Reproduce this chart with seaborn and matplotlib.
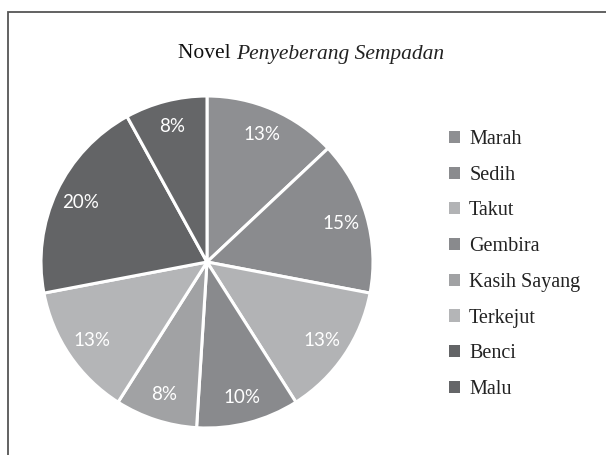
import numpy as np
import matplotlib
matplotlib.use("Agg")
import matplotlib.pyplot as plt
from matplotlib.patches import Rectangle, Patch
import seaborn as sns

sns.set_theme(style="white")
plt.rcParams['font.family'] = ['Liberation Serif', 'DejaVu Serif']

# data
emotions = ['Marah', 'Sedih', 'Takut', 'Gembira', 'Kasih Sayang', 'Terkejut', 'Benci', 'Malu']
shares = [13, 15, 13, 10, 8, 13, 20, 8]
grays = ['#8e8f92', '#8a8b8e', '#b2b3b5', '#898a8d', '#a1a2a4', '#b4b5b7', '#636466', '#656668']
title_plain = 'Novel '
title_italic = 'Penyeberang Sempadan'

W, H = 606, 455
fig = plt.figure(figsize=(W / 100, H / 100), dpi=100)

# outer frame (top/left visible, runs off right and bottom)
fig.patches.append(Rectangle((8 / W, -0.1), 1.2, 1 - 12 / H + 0.1, transform=fig.transFigure,
                             fill=False, edgecolor='#555555', linewidth=1.3, clip_on=False))

# pie centre (207, 262), radius 166 px
cx, cy, r = 207, 262, 166
ax = fig.add_axes([(cx - r) / W, (H - cy - r) / H, 2 * r / W, 2 * r / H])
wedges, texts, autotexts = ax.pie(
    shares, colors=grays, startangle=90, counterclock=False,
    autopct='%1.0f%%', pctdistance=0.84,
    wedgeprops={'edgecolor': 'white', 'linewidth': 2.2},
    textprops={'color': 'white', 'fontsize': 13.5, 'family': ['Lato', 'DejaVu Sans']})
ax.set_xlim(-1, 1)
ax.set_ylim(-1, 1)
ax.axis('off')

# legend
handles = [Patch(facecolor=c, edgecolor='none') for c in grays]
fig.legend(handles, emotions, loc='upper left', bbox_to_anchor=(449 / W, 1 - 130 / H),
           frameon=False, fontsize=14.5, handlelength=0.55, handleheight=0.55,
           handletextpad=0.45, labelspacing=0.83, borderaxespad=0, borderpad=0,
           labelcolor='#222222')

# title: "Novel" upright + italic novel name
fig.canvas.draw()
rend = fig.canvas.get_renderer()
t1 = fig.text(0, 1 - 54 / H, title_plain, fontsize=15.5, va='center', color='#111111')
t2 = fig.text(0, 1 - 54 / H, title_italic, fontsize=15.5, style='italic', va='center', color='#222222')
w1 = t1.get_window_extent(rend).width
w2 = t2.get_window_extent(rend).width
x0 = 311 - (w1 + w2) / 2
t1.set_x(x0 / W)
t2.set_x((x0 + w1) / W)

fig.savefig('out.png', dpi=100)
